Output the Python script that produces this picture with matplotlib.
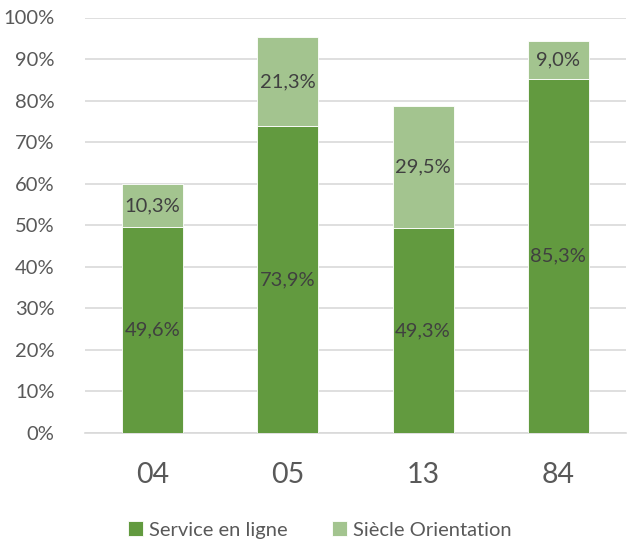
import matplotlib
matplotlib.use("Agg")
import matplotlib.pyplot as plt
from matplotlib.ticker import FuncFormatter

categories = ["04", "05", "13", "84"]
service_en_ligne = [49.6, 73.9, 49.3, 85.3]
siecle_orientation = [10.3, 21.3, 29.5, 9.0]
series_names = ["Service en ligne", "Siècle Orientation"]
yticks = [0, 10, 20, 30, 40, 50, 60, 70, 80, 90, 100]

plt.rcParams['font.family'] = ['Lato', 'DejaVu Sans']

dark = "#629A3F"
light = "#A3C48F"

fig = plt.figure(figsize=(6.39, 5.43), dpi=100)
ax = fig.add_axes([85/639, 1-433/543, (626-85)/639, (433-17.5)/543])

x = list(range(len(categories)))
b1 = ax.bar(x, service_en_ligne, width=0.45, color=dark, edgecolor="white", linewidth=0.6, label=series_names[0], zorder=3)
b2 = ax.bar(x, siecle_orientation, width=0.45, bottom=service_en_ligne, color=light, edgecolor="white", linewidth=0.6, label=series_names[1], zorder=3)

def fmt(v):
    return ("%.1f" % v).replace(".", ",") + "%"

for i in x:
    ax.text(i, service_en_ligne[i] / 2, fmt(service_en_ligne[i]), ha="center", va="center", fontsize=14.5, color="#404040", zorder=4)
    ax.text(i, service_en_ligne[i] + siecle_orientation[i] / 2, fmt(siecle_orientation[i]), ha="center", va="center", fontsize=14.5, color="#404040", zorder=4)

ax.set_xlim(-0.5, len(categories) - 0.5)
ax.set_ylim(0, 100)
ax.set_yticks(yticks)
ax.yaxis.set_major_formatter(FuncFormatter(lambda v, p: "%d%%" % v))
ax.set_xticks(x)
ax.set_xticklabels(categories)
ax.grid(axis="y", color="#D9D9D9", linewidth=1.2, zorder=0)
for s in ["top", "right", "left"]:
    ax.spines[s].set_visible(False)
ax.spines["bottom"].set_color("#D9D9D9")
ax.spines["bottom"].set_linewidth(1.2)
ax.tick_params(axis="y", length=0, labelsize=14.5, labelcolor="#595959", pad=22)
ax.tick_params(axis="x", length=0, labelsize=20.5, labelcolor="#595959", pad=21)

fig.legend(handles=[b1, b2], labels=series_names, loc="center", bbox_to_anchor=(0.5, 1 - 530/543), ncol=2, frameon=False,
           fontsize=14.5, labelcolor="#595959", handlelength=0.75, handleheight=0.75, handletextpad=0.3, columnspacing=2.2)

fig.savefig("out.png", dpi=100)
